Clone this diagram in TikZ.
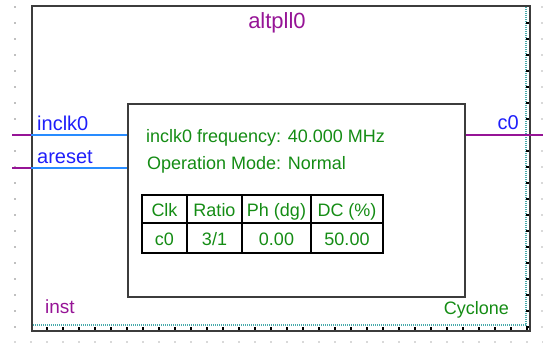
\documentclass[tikz,border=0pt]{standalone}
\usepackage{fontspec}
\setmainfont{Liberation Sans}
\usepackage{xcolor}
\usepackage{tikz}
\usetikzlibrary{positioning}

\definecolor{pinblue}{RGB}{30,30,250}
\definecolor{wireblue}{RGB}{40,140,255}
\definecolor{instpurple}{RGB}{150,20,150}
\definecolor{infogreen}{RGB}{20,140,20}
\definecolor{gridteal}{RGB}{70,170,170}
\definecolor{boxgray}{RGB}{60,60,60}

\begin{document}
\begin{tikzpicture}[x=1pt, y=-1pt,
    pinname/.style={text=pinblue, font=\fontsize{20}{22}\selectfont, inner sep=0pt},
    infotext/.style={text=infogreen, font=\fontsize{18}{20}\selectfont, inner sep=0pt},
    cell/.style={infotext, anchor=base},
    wire/.style={line width=1.5pt}]
    \useasboundingbox (0,0) rectangle (543,343);

    % Grid dots
    \foreach \k in {0,...,20} {
        \fill[gray] (15,7+16*\k) circle (0.9);
        \fill[gray!60] (542,7+16*\k) circle (0.9);
    }
    \foreach \k in {0,...,33} \fill[gray!60] (15+16*\k,342) circle (0.8);

    % Boxes
    \node (symbol) [draw=boxgray, line width=2pt, minimum width=498, minimum height=325, anchor=north west, inner sep=0pt] at (31,5) {}; % The symbol outline
    \node (body) [draw=boxgray, line width=1.5pt, minimum width=337, minimum height=193, anchor=north west, inner sep=0pt] at (127,103) {}; % The parameter box

    % Edge marks of the symbol
    \draw[gridteal, line width=1.5pt, dash pattern=on 1pt off 1pt] (33,325) -- (526,325) -- (526,7);
    \foreach \k in {0,...,30} \draw[line width=1.2pt] (47+16*\k,330) -- ++(0,-3);
    \foreach \k in {0,...,19} \draw[line width=1.2pt] (529,23+16*\k) -- ++(-3,0);

    % Texts
    \node (title) [text=instpurple, font=\fontsize{22}{24}\selectfont, inner sep=0pt, anchor=base] at (277,28) {altpll0}; % Instance name
    \node (inclklbl) [pinname, anchor=base west] at (37,130) {inclk0}; % Input clock
    \node (aresetlbl) [pinname, anchor=base west] at (37,163) {areset}; % Reset input
    \node (c0lbl) [pinname, anchor=base east] at (519,129) {c0}; % Output clock
    \node (freq) [infotext, anchor=base west] at (146,142) {inclk0 frequency: 40.000 MHz};
    \node (mode) [infotext, anchor=base west] at (147,169) {Operation Mode: Normal};
    \node (inst) [text=instpurple, font=\fontsize{19}{21}\selectfont, inner sep=0pt, anchor=base west] at (45,313) {inst};
    \node (family) [infotext, anchor=base east] at (509,314) {Cyclone};

    % Clock table
    \draw[line width=1.5pt] (142,195) rectangle (383,253);
    \draw[line width=1.5pt] (142,223) -- (383,223);
    \foreach \x in {187,242,311} \draw[line width=1.5pt] (\x,195) -- (\x,253);
    \node (hclk) [cell] at (164.5,216) {Clk};
    \node (hratio) [cell] at (214.5,216) {Ratio};
    \node (hph) [cell] at (276.5,216) {Ph (dg)};
    \node (hdc) [cell] at (347,216) {DC (\%)};
    \node (vclk) [cell] at (164.5,245) {c0};
    \node (vratio) [cell] at (214.5,245) {3/1};
    \node (vph) [cell] at (276.5,245) {0.00};
    \node (vdc) [cell] at (347,245) {50.00};

    % Wires
    \coordinate (inclkend) at (12,135);
    \coordinate (aresetend) at (12,168);
    \coordinate (c0end) at (543,135);
    \draw[wire, instpurple] (inclkend) -- (symbol.west |- inclkend);
    \draw[wire, wireblue] (symbol.west |- inclkend) -- (body.west |- inclkend);
    \draw[wire, instpurple] (aresetend) -- (symbol.west |- aresetend);
    \draw[wire, wireblue] (symbol.west |- aresetend) -- (body.west |- aresetend);
    \draw[wire, instpurple] (body.east |- c0end) -- (c0end);
\end{tikzpicture}
\end{document}
